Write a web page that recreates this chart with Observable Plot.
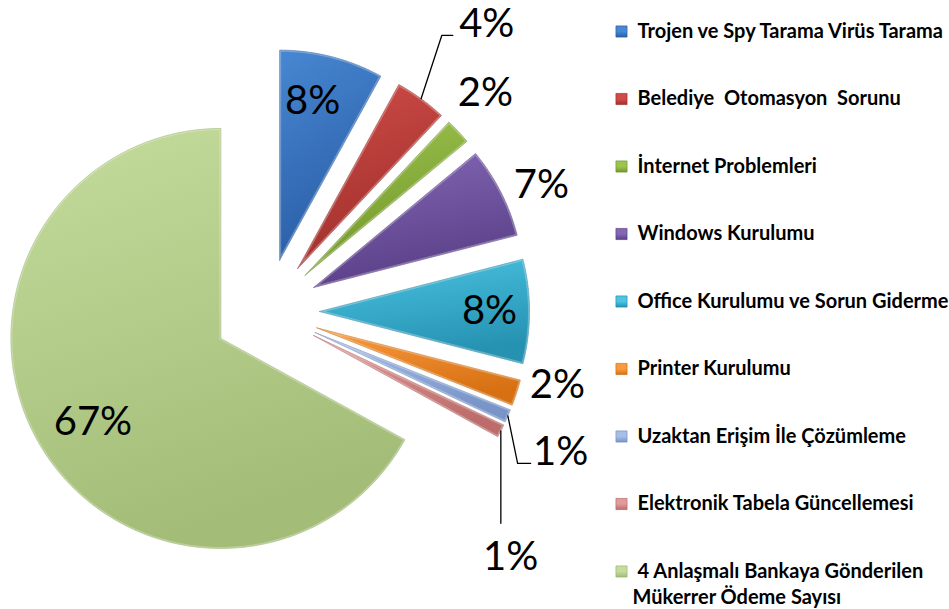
<!DOCTYPE html>
<html><head><meta charset="utf-8">
<script src="https://cdn.jsdelivr.net/npm/d3@7"></script>
<script src="https://cdn.jsdelivr.net/npm/@observablehq/plot@0.6"></script>
<style>
body{margin:0;background:#fff;}
#chart svg text{white-space:pre;}
</style>
</head><body><div id="chart"></div>
<script>
// ---- data ----
const categories = [
  "Trojen ve Spy Tarama Virüs Tarama",
  "Belediye  Otomasyon  Sorunu",
  "İnternet Problemleri",
  "Windows Kurulumu",
  "Office Kurulumu ve Sorun Giderme",
  "Printer Kurulumu",
  "Uzaktan Erişim İle Çözümleme",
  "Elektronik Tabela Güncellemesi",
  "4 Anlaşmalı Bankaya Gönderilen\nMükerrer Ödeme Sayısı"
];
const values = [8, 4, 2, 7, 8, 2, 1, 1, 67];
const percentLabels = ["8%", "4%", "2%", "7%", "8%", "2%", "1%", "1%", "67%"];

// ---- styles ----
const gradLight = ["#4887D2", "#D04C48", "#9EC450", "#8468B6", "#4CC4E2", "#FA9A3E", "#A6BEE8", "#E09C9A", "#C4DC9C"];
const gradDark  = ["#2A5EA6", "#A0302C", "#72972A", "#5A3F88", "#2692B2", "#D67012", "#7894C8", "#BC6C6A", "#A3BD78"];
const edgeColor = ["#28599A", "#942C29", "#6A8C28", "#523A7E", "#2487A4", "#C66810", "#6E88B8", "#AC6260", "#96AE6C"];

// ---- layout ----
const W = 949, H = 609;
const CX = 266, CY = 311, R = 210;          // pie centre and radius (px)
const EXPLODE = 53 / R;                      // explosion offset (radius units)
// label anchors: [angle clockwise from top (deg), distance from centre (radius units)]
const labelPolar = [[12.4, 1.024], [37.5, 1.723], [45.1, 1.471], [65.4, 1.44], [90, 1.062],
                    [104.3, 1.43], [115.6, 1.553], [135.2, 1.65], [237.5, 0.98]];
const legendTop = 31, legendStep = 67.5, legendLineStep = 26, legendMarkerX = 621, legendTextX = 637;

const dx = px => (px - CX) / R;
const dy = py => (CY - py) / R;

const total = d3.sum(values);
let acc = 0;
const slices = values.map((v, i) => {
  const a0 = acc / total * 2 * Math.PI; acc += v;
  const a1 = acc / total * 2 * Math.PI;
  return {i, a0, a1, mid: (a0 + a1) / 2};
});

const slicePts = [];
for (const s of slices) {
  const ox = EXPLODE * Math.sin(s.mid), oy = EXPLODE * Math.cos(s.mid);
  slicePts.push({i: s.i, x: ox, y: oy});
  const n = Math.max(2, Math.ceil((s.a1 - s.a0) / (Math.PI / 180)));
  for (let k = 0; k <= n; k++) {
    const a = s.a0 + (s.a1 - s.a0) * k / n;
    slicePts.push({i: s.i, x: ox + Math.sin(a), y: oy + Math.cos(a)});
  }
  slicePts.push({i: s.i, x: ox, y: oy});
}

const labels = slices.map(s => {
  const [ang, r] = labelPolar[s.i];
  const a = ang * Math.PI / 180;
  return {i: s.i, text: percentLabels[s.i], x: r * Math.sin(a), y: r * Math.cos(a)};
});

function edgePoint(s) {
  const k = 1 + EXPLODE;
  return {x: k * Math.sin(s.mid), y: k * Math.cos(s.mid)};
}
const px = 1 / R;
const leaders = [];
{ // 4%
  const s = slices[1], L = labels[1], p = edgePoint(s);
  leaders.push({id: 1, x: p.x, y: p.y}, {id: 1, x: L.x - 45 * px, y: L.y - 11 * px}, {id: 1, x: L.x - 34 * px, y: L.y - 11 * px});
}
{ // 1% (Uzaktan)
  const s = slices[6], L = labels[6], p = edgePoint(s);
  leaders.push({id: 6, x: p.x, y: p.y}, {id: 6, x: L.x - 43 * px, y: L.y - 11 * px}, {id: 6, x: L.x - 30 * px, y: L.y - 11 * px});
}
{ // 1% (Elektronik)
  const s = slices[7], L = labels[7], p = edgePoint(s);
  leaders.push({id: 7, x: p.x, y: p.y}, {id: 7, x: p.x, y: L.y + 34 * px});
}

const legendMarkers = categories.map((c, i) => ({i, x: dx(legendMarkerX), y: dy(legendTop + i * legendStep)}));
const legendLines = categories.flatMap((c, i) => c.split("\n").map((t, j) => ({
  i, text: t, x: dx(legendTextX - (j > 0 ? 5 : 0)), y: dy(legendTop + i * legendStep + j * legendLineStep)
})));

const svg = Plot.plot({
  width: W, height: H,
  marginTop: 0, marginRight: 0, marginBottom: 0, marginLeft: 0,
  x: {axis: null, domain: [dx(0), dx(W)]},
  y: {axis: null, domain: [dy(H), dy(0)]},
  color: {type: "identity"},
  style: {background: "#fff", overflow: "visible"},
  marks: [
    Plot.line(slicePts, {x: "x", y: "y", z: "i", fill: d => `url(#g${d.i})`,
      stroke: d => edgeColor[d.i], strokeWidth: 0.8, strokeLinejoin: "round", curve: "linear"}),
    Plot.line(slicePts, {x: "x", y: "y", z: "i", stroke: "rgba(255,255,255,0.28)",
      strokeWidth: 3, strokeLinejoin: "round", curve: "linear"}),
    Plot.line(leaders, {x: "x", y: "y", z: "id", stroke: "#000", strokeWidth: 1.3}),
    Plot.text(labels, {x: "x", y: "y", text: "text", fontSize: 40, fontFamily: "Lato", fill: "#000"}),
    Plot.dot(legendMarkers, {x: "x", y: "y", symbol: "square", r: 6.3, fill: d => `url(#m${d.i})`,
      stroke: d => edgeColor[d.i], strokeWidth: 0.6}),
    Plot.text(legendLines, {x: "x", y: "y", text: "text", textAnchor: "start",
      fontSize: 20, fontWeight: "bold", fontFamily: "Lato", fill: "#000"})
  ]
});

const defs = d3.select(svg).insert("defs", ":first-child");
gradLight.forEach((c, i) => {
  const g = defs.append("linearGradient").attr("id", `g${i}`).attr("x1", 0).attr("y1", 0).attr("x2", 0.3).attr("y2", 1);
  g.append("stop").attr("offset", "0%").attr("stop-color", c);
  g.append("stop").attr("offset", "100%").attr("stop-color", gradDark[i]);
  const m = defs.append("linearGradient").attr("id", `m${i}`).attr("x1", 0).attr("y1", 0).attr("x2", 0).attr("y2", 1);
  m.append("stop").attr("offset", "0%").attr("stop-color", c);
  m.append("stop").attr("offset", "50%").attr("stop-color", c);
  m.append("stop").attr("offset", "100%").attr("stop-color", gradDark[i]);
});

document.getElementById("chart").appendChild(svg);
</script>
</body></html>
